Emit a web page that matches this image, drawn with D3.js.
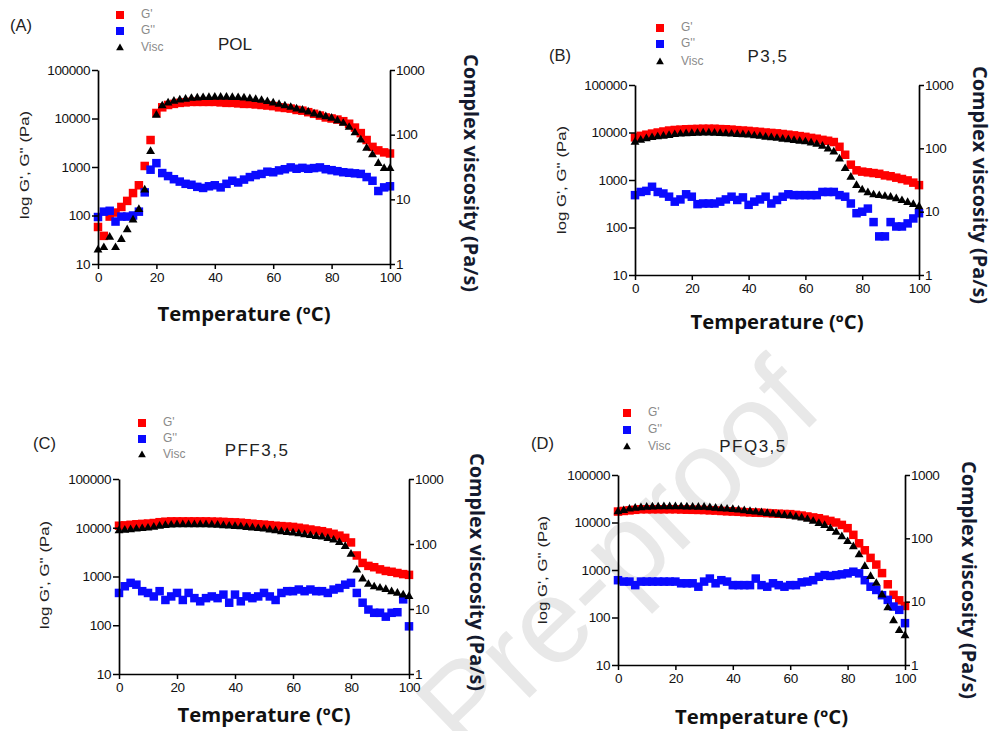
<!DOCTYPE html>
<html><head><meta charset="utf-8">
<script src="https://cdn.jsdelivr.net/npm/d3@7"></script>
<style>
html,body{margin:0;padding:0;background:#fff;}
svg{display:block;}
</style></head>
<body>
<svg id="chart" width="989" height="731"></svg>
<script>
// ---------------- DATA ----------------
const temps = [0,2,4,6,8,10,12,14,16,18,20,22,24,26,28,30,32,34,36,38,40,42,44,46,48,50,52,54,56,58,60,62,64,66,68,70,72,74,76,78,80,82,84,86,88,90,92,94,96,98,100];
const xTicks = [0,20,40,60,80,100];
const leftTicks = [10,100,1000,10000,100000];
const rightTicks = [1,10,100,1000];
const seriesNames = ["G'", "G''", "Visc"];
const panelLabels = ["(A)","(B)","(C)","(D)"];
const panelTitles = ["POL","P3,5","PFF3,5","PFQ3,5"];

// Panel A – POL
const gp_A  = [58,38,95,115,150,200,290,420,1050,3600,13000,17000,19000,20000,21000,21500,22000,22000,22000,22000,22000,21500,21000,21000,20500,20000,20000,19500,19000,18500,18000,17000,16500,16000,15000,14500,13500,12500,11500,10500,10000,9500,8800,7800,6500,5000,3600,2600,2200,2000,1900];
const gpp_A = [93,120,125,75,95,95,100,120,300,880,1200,750,650,560,500,450,430,390,370,400,420,380,450,520,480,550,620,680,720,800,780,850,900,980,920,960,920,950,980,900,860,820,780,760,740,720,620,520,320,380,400];
const visc_A = [1.65,1.8,2.6,1.8,2.4,3.4,4.8,7,14,55,200,280,310,330,345,355,365,370,375,378,380,380,380,378,375,370,360,350,340,325,310,295,280,265,250,240,225,210,200,190,180,165,150,130,107,83,62,49,36,30,30];

// Panel B – P3,5
const gp_B  = [7900,8500,9000,9500,10000,10500,11000,11300,11500,11700,11800,11900,12000,12000,12000,11800,11700,11500,11200,11000,10800,10500,10300,10000,9800,9600,9300,9000,8700,8400,8100,7700,7400,7000,6700,6300,5000,3400,2100,1600,1500,1450,1400,1350,1250,1200,1120,1050,980,880,780];
const gpp_B = [480,560,590,720,560,520,445,350,390,500,445,310,320,320,320,350,390,445,380,430,300,350,390,445,320,380,445,500,480,480,480,480,480,560,560,560,480,445,320,200,215,250,130,65,65,130,105,105,122,155,200];
const visc_B = [125,135,142,148,152,156,160,165,168,170,172,174,175,175,174,172,170,168,166,164,162,158,155,150,147,144,140,137,133,130,127,122,116,108,98,88,68,48,35,26,22,20,18.5,18,17.5,17,16,15,14,13,12];

// Panel C – PFF3,5
const gp_C  = [11000,11200,11500,11800,12000,12200,12500,13000,13300,13500,13500,13500,13500,13500,13500,13500,13400,13300,13200,13000,12900,12700,12400,12100,11800,11600,11300,11000,10800,10600,10400,10000,9600,9200,8800,8500,8000,7500,6900,6200,5000,2700,1900,1650,1550,1400,1300,1250,1180,1120,1080];
const gpp_C = [460,630,740,680,500,460,390,500,330,390,460,330,460,360,310,360,390,360,425,290,425,310,390,360,390,460,390,330,460,500,500,540,500,540,500,500,460,540,580,680,740,460,290,210,180,180,150,180,185,340,95];
const visc_C = [160,163,166,170,173,176,182,188,193,196,198,199,199,199,198,198,197,195,192,189,187,184,180,177,173,170,165,160,155,151,148,144,139,135,131,128,122,115,106,92,70,40,29,24,22,21,20,18.5,17.5,16.5,15.6];

// Panel D – PFQ3,5
const gp_D  = [17000,17500,18000,18500,19000,19000,19000,19000,19000,19000,19000,18800,18600,18500,18400,18300,18000,17800,17500,17200,17000,16800,16500,16300,16100,16000,15800,15500,15300,15100,15000,14500,14000,13400,12800,12300,11500,10800,10000,8900,7600,5500,3650,2600,1800,1300,860,500,300,230,175];
const gpp_D = [610,570,570,480,570,570,570,570,570,570,570,525,525,525,445,570,660,525,610,570,480,480,480,480,660,480,445,525,480,445,480,480,550,570,610,720,780,750,780,810,850,920,850,610,445,380,295,235,170,145,76];
const visc_D = [263,275,290,300,305,310,313,315,316,316,316,315,314,312,311,310,306,300,295,290,287,280,273,267,260,255,248,242,236,230,225,218,210,200,186,172,160,143,125,106,89,74,55,36,25,19.5,12.8,8,5,3.5,2.9];

const panelData = [
  [gp_A, gpp_A, visc_A],
  [gp_B, gpp_B, visc_B],
  [gp_C, gpp_C, visc_C],
  [gp_D, gpp_D, visc_D]
];

// ---------------- LAYOUT ----------------
const layout = [
  {x0:98,  x1:390, yTop:70,  yBot:264, lab:[10,31],  title:[235,50], leg:[120,[15,31,48]],  xt:316, lt:[25,165],  rt:[469,173]},
  {x0:635, x1:919, yTop:85,  yBot:275, lab:[549,61], title:[768,62], leg:[660,[28,44,62]],  xt:324, lt:[562,180], rt:[978,185]},
  {x0:119, x1:409, yTop:479, yBot:674, lab:[33,449], title:[257,456],leg:[142,[423,439,455]],xt:717, lt:[45,575],  rt:[475,572]},
  {x0:618, x1:905, yTop:475, yBot:665, lab:[531,449],title:[753,452],leg:[627,[413,430,447]],xt:719, lt:[543,570], rt:[967,580]}
];
const colors = ["#ff0000","#0a0aff","#000000"];

const svg = d3.select("#chart");

// watermark
svg.append("text")
  .attr("transform","translate(466,759) rotate(-44)")
  .attr("font-family","Liberation Sans, Arial, sans-serif")
  .attr("font-size",120)
  .attr("fill","#e8e8e8")
  .text("Pre-proof");

const tri = d3.symbol().type(d3.symbolTriangle).size(34);

layout.forEach((L, i) => {
  const g = svg.append("g");
  const x = d3.scaleLinear().domain([0,100]).range([L.x0, L.x1]);
  const yL = d3.scaleLog().domain([10,100000]).range([L.yBot, L.yTop]);
  const yR = d3.scaleLog().domain([1,1000]).range([L.yBot, L.yTop]);
  const [gp, gpp, visc] = panelData[i];

  // marks
  const sq = 8.5;
  g.append("g").selectAll("rect").data(temps.map((t,k)=>[t,gp[k]])).join("rect")
    .attr("x", d=>x(d[0])-sq/2).attr("y", d=>yL(d[1])-sq/2)
    .attr("width",sq).attr("height",sq).attr("fill",colors[0]);
  g.append("g").selectAll("rect").data(temps.map((t,k)=>[t,gpp[k]])).join("rect")
    .attr("x", d=>x(d[0])-sq/2).attr("y", d=>yL(d[1])-sq/2)
    .attr("width",sq).attr("height",sq).attr("fill",colors[1]);
  g.append("g").selectAll("path").data(temps.map((t,k)=>[t,visc[k]])).join("path")
    .attr("d", tri)
    .attr("transform", d=>`translate(${x(d[0])},${yR(d[1])})`)
    .attr("fill",colors[2]);

  // axes
  const fmt = d3.format("d");
  const ax = (sel)=>{
    sel.selectAll("path.domain").attr("stroke","#000").attr("stroke-width",1.7);
    sel.selectAll(".tick line").attr("stroke","#000").attr("stroke-width",1.5);
    sel.selectAll(".tick text").attr("fill","#111")
      .attr("font-family","Liberation Sans, Arial, sans-serif")
      .attr("font-size",13.5).attr("letter-spacing","-0.4px");
  };
  g.append("g").attr("transform",`translate(${L.x0},0)`)
    .call(d3.axisLeft(yL).tickValues(leftTicks).tickFormat(fmt).tickSize(6).tickSizeOuter(0).tickPadding(2))
    .call(ax);
  g.append("g").attr("transform",`translate(${L.x1},0)`)
    .call(d3.axisRight(yR).tickValues(rightTicks).tickFormat(fmt).tickSize(5).tickSizeOuter(0).tickPadding(1))
    .call(ax);
  g.append("g").attr("transform",`translate(0,${L.yBot})`)
    .call(d3.axisBottom(x).tickValues(xTicks).tickFormat(fmt).tickSize(5).tickSizeOuter(0).tickPadding(3))
    .call(ax);

  // axis titles
  g.append("text").attr("x",(L.x0+L.x1)/2).attr("y",L.xt).attr("text-anchor","middle")
    .attr("dominant-baseline","middle")
    .attr("font-family","Open Sans, sans-serif").attr("font-weight","bold").attr("font-size",19)
    .attr("textLength",173).attr("lengthAdjust","spacingAndGlyphs")
    .attr("fill","#111").text("Temperature (ºC)");
  g.append("text").attr("transform",`translate(${L.lt[0]},${L.lt[1]}) rotate(-90)`)
    .attr("text-anchor","middle").attr("dominant-baseline","middle")
    .attr("font-family","Liberation Sans, Arial, sans-serif").attr("font-size",13.5)
    .attr("textLength",108).attr("lengthAdjust","spacingAndGlyphs")
    .attr("fill","#222").text("log G', G'' (Pa)");
  g.append("text").attr("transform",`translate(${L.rt[0]},${L.rt[1]}) rotate(90)`)
    .attr("text-anchor","middle").attr("dominant-baseline","middle")
    .attr("font-family","Open Sans, sans-serif").attr("font-weight","bold").attr("font-size",19)
    .attr("textLength",238).attr("lengthAdjust","spacingAndGlyphs")
    .attr("fill","#141a2e").text("Complex viscosity (Pa/s)");

  // panel label and title
  g.append("text").attr("x",L.lab[0]).attr("y",L.lab[1])
    .attr("font-family","Liberation Sans, Arial, sans-serif").attr("font-size",16.5)
    .attr("fill","#222").text(panelLabels[i]);
  g.append("text").attr("x",L.title[0]).attr("y",L.title[1]).attr("text-anchor","middle")
    .attr("font-family","Liberation Sans, Arial, sans-serif").attr("font-size",17)
    .attr("letter-spacing", i===0 ? "0px" : "1.5px")
    .attr("fill","#222").text(panelTitles[i]);

  // legend
  const lg = g.append("g");
  seriesNames.forEach((nm, k) => {
    const ly = L.leg[1][k];
    if (k < 2) {
      lg.append("rect").attr("x",L.leg[0]-4).attr("y",ly-4).attr("width",8).attr("height",8).attr("fill",colors[k]);
    } else {
      lg.append("path").attr("d", d3.symbol().type(d3.symbolTriangle).size(26)())
        .attr("transform",`translate(${L.leg[0]},${ly})`).attr("fill","#000");
    }
    lg.append("text").attr("x",L.leg[0]+21).attr("y",ly).attr("dominant-baseline","middle")
      .attr("font-family","Liberation Sans, Arial, sans-serif").attr("font-size",12)
      .attr("fill","#8a8a8a").text(nm);
  });
});
</script>
</body></html>
